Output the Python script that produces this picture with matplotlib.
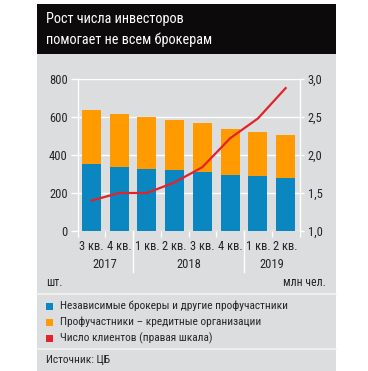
import matplotlib
matplotlib.use('Agg')
import matplotlib.pyplot as plt
from matplotlib.patches import Rectangle
import numpy as np

plt.rcParams['font.family'] = ['Roboto Condensed', 'DejaVu Sans']

quarters = ['3 кв.', '4 кв.', '1 кв.', '2 кв.', '3 кв.', '4 кв.', '1 кв.', '2 кв.']
years = ['2017', '2018', '2019']
year_pos = [0.5, 3.5, 6.5]
brokers = [353, 339, 328, 321, 311, 297, 290, 281]
banks = [284, 278, 272, 263, 259, 240, 231, 224]
clients = [1.40, 1.50, 1.50, 1.64, 1.84, 2.22, 2.48, 2.88]

W, H = 368, 371
BG = '#dcddde'
BLUE = '#0a86c0'
ORANGE = '#ff9a00'
RED = '#e3222b'
TXT = '#262626'

fig = plt.figure(figsize=(W / 100, H / 100), dpi=100)
fig.patch.set_facecolor('white')

def px(x, y):
    # pixel coords (top-left origin) -> figure fraction
    return x / W, 1 - y / H

# card + title block
fig.patches.append(Rectangle(px(37, 371), 299 / W, 317 / H, transform=fig.transFigure,
                             facecolor=BG, edgecolor='none', zorder=-2))
fig.patches.append(Rectangle(px(37, 54), 299 / W, 50 / H, transform=fig.transFigure,
                             facecolor='#0c0a0a', edgecolor='none', zorder=-2))
fig.text(*px(46, 19), 'Рост числа инвесторов', color='white', fontsize=10.3, va='center')
fig.text(*px(46, 40), 'помогает не всем брокерам', color='white', fontsize=10.3, va='center')

# main axes
x0, x1, ytop, ybot = 77.5, 299.5, 79, 231
ax = fig.add_axes([x0 / W, 1 - ybot / H, (x1 - x0) / W, (ybot - ytop) / H])
ax.set_facecolor('none')
x = np.arange(len(quarters))
ax.bar(x, brokers, width=0.68, color=BLUE, zorder=2)
ax.bar(x, banks, width=0.68, bottom=brokers, color=ORANGE, zorder=2)
ax.set_xlim(-0.5, 7.5)
ax.set_ylim(0, 800)
ax.set_yticks([0, 200, 400, 600, 800])
ax.grid(axis='y', color='white', lw=1, zorder=1)
ax.set_axisbelow(True)
for s in ['top', 'bottom']:
    ax.spines[s].set_visible(False)
for s in ['left', 'right']:
    ax.spines[s].set_color('white')
    ax.spines[s].set_linewidth(1)
ax.tick_params(axis='y', colors='white', length=5, width=1, labelcolor=TXT, labelsize=9, pad=2)
ax.set_xticks(np.arange(-0.5, 8, 1))
ax.set_xticklabels([])
ax.tick_params(axis='x', colors='white', length=4, width=1)
for b in [1.5, 5.5]:
    ax.axvline(b, ymin=-0.27, ymax=0, color='white', lw=1, clip_on=False)

for i, q in enumerate(quarters):
    ax.text(i, -0.10, q, transform=ax.get_xaxis_transform(), ha='center', va='center',
            fontsize=9, color=TXT)
for p, yr in zip(year_pos, years):
    ax.text(p, -0.22, yr, transform=ax.get_xaxis_transform(), ha='center', va='center',
            fontsize=9, color=TXT)

ax2 = ax.twinx()
ax2.plot(x, clients, color=RED, lw=1.6, zorder=3)
ax2.set_ylim(1.0, 3.0)
ax2.set_yticks([1.0, 1.5, 2.0, 2.5, 3.0])
ax2.set_yticklabels(['1,0', '1,5', '2,0', '2,5', '3,0'])
for s in ax2.spines.values():
    s.set_visible(False)
ax2.tick_params(axis='y', colors='white', length=3, width=1, labelcolor=TXT, labelsize=9, pad=3)

fig.text(*px(46, 283), 'шт.', fontsize=8.5, color=TXT, va='center')
fig.text(*px(326, 283), 'млн чел.', fontsize=8.5, color=TXT, va='center', ha='right')

# separators
for yy in [294, 349]:
    fig.add_artist(plt.Line2D([37 / W, 336 / W], [1 - yy / H] * 2, color='#f2f2f2', lw=1.2))

legend = [(BLUE, 'Независимые брокеры и другие профучастники'),
          (ORANGE, 'Профучастники – кредитные организации'),
          (RED, 'Число клиентов (правая шкала)')]
for k, (c, lab) in enumerate(legend):
    yc = 306 + k * 16
    fig.patches.append(Rectangle(px(46, yc + 3.5), 7 / W, 7 / H, transform=fig.transFigure,
                                 facecolor=c, edgecolor='none'))
    fig.text(*px(60, yc), lab, fontsize=8.2, color=TXT, va='center')

fig.text(*px(46, 360), 'Источник: ЦБ', fontsize=8.2, color=TXT, va='center')

fig.savefig('out.png', dpi=100, facecolor='white')
